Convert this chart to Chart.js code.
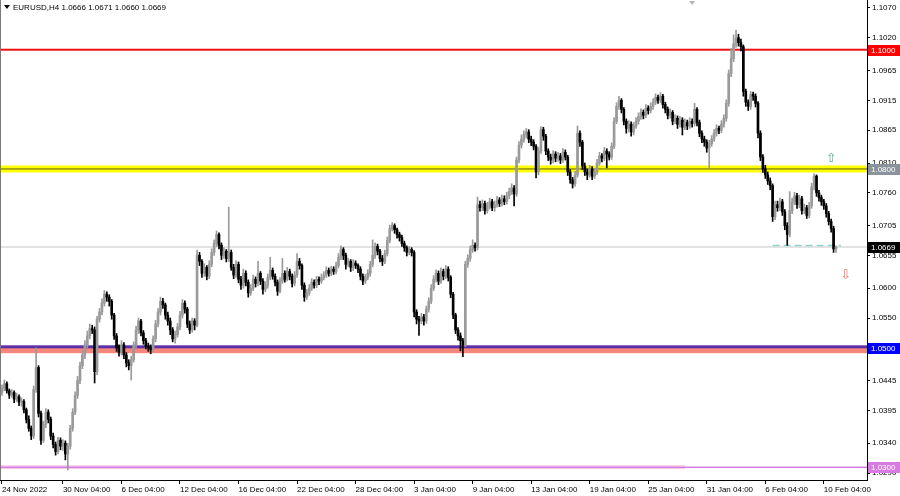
<!DOCTYPE html>
<html>
<head>
<meta charset="utf-8">
<script src="https://cdn.jsdelivr.net/npm/chart.js@4.4.1/dist/chart.umd.min.js"></script>
<style>
html, body { margin: 0; padding: 0; background: #fff; }
#wrap { width: 900px; height: 496px; }
</style>
</head>
<body>
<div id="wrap"><canvas id="chart" width="900" height="496"></canvas></div>
<script>
// EURUSD H4, 24 Nov 2022 - 10 Feb 2023. Prices are pips above 1.0000
const symbol = 'EURUSD,H4';

const opens = [
    425,432,440,428,421,425,414,418,409,410, 396,380,365,352,430,467,390,345,372,392,
    380,352,338,326,345,335,340,322,335,365, 392,420,445,470,488,505,520,532,530,460,
    548,560,575,590,585,578,555,520,500,492, 505,488,475,470,480,505,530,545,525,512,
    503,500,497,515,540,560,578,572,555,545, 530,515,522,535,555,575,565,540,530,545,
    538,655,645,625,635,620,640,660,675,690, 672,655,662,650,660,635,622,640,615,605,
    625,610,592,600,615,608,625,612,598,605, 618,630,620,610,595,612,625,615,628,620,
    608,622,645,638,605,585,592,600,610,605, 615,612,618,622,630,625,632,628,638,652,
    665,655,640,645,635,642,638,632,620,612, 618,625,640,655,670,662,650,645,658,680,
    700,705,698,690,685,675,668,660,665,660, 560,548,545,552,545,565,578,600,615,625,
    612,628,620,632,618,590,555,530,520,512, 505,640,650,665,672,668,740,735,742,730,
    738,745,735,740,748,742,750,745,755,762, 768,758,815,840,850,858,862,850,845,838,
    795,830,866,855,830,820,815,825,818,822, 815,828,820,795,782,775,790,860,845,805,
    795,790,800,788,795,810,822,818,830,825, 820,838,880,905,915,900,880,868,875,862,
    872,880,888,895,890,902,898,905,912,920, 915,922,908,900,890,895,880,885,875,882,
    870,878,872,880,876,900,878,860,850,845, 835,842,850,860,868,865,875,885,910,960,
    985,1010,1020,1012,1005,930,912,905,925,922, 910,860,820,800,790,780,772,720,740,735,
    745,728,705,690,730,745,755,740,750,730, 735,722,738,770,788,760,752,745,738,725,
    712,700,666
];
const highs = [
    438,446,443,431,430,428,424,421,416,413, 399,386,369,436,500,470,394,377,398,396,
    384,357,342,350,349,346,344,340,370,398, 426,452,476,495,512,528,540,538,535,553,
    566,582,596,594,589,581,558,524,505,512, 509,492,480,486,510,536,550,548,529,516,
    508,505,520,546,566,585,583,575,560,550, 534,528,541,561,581,579,568,545,550,549,
    664,660,648,641,638,646,666,681,696,693, 676,668,665,736,664,640,646,644,620,632,
    629,614,606,622,619,645,628,616,611,624, 652,634,624,614,618,650,629,635,632,624,
    628,658,650,641,609,598,606,616,614,620, 619,624,628,636,634,637,636,644,658,671,
    668,659,650,648,648,646,641,636,624,623, 631,645,681,676,674,665,655,664,686,706,
    710,708,701,694,689,679,671,670,668,663, 564,553,558,556,570,584,606,621,631,629,
    634,632,638,636,621,593,558,534,525,516, 645,656,671,681,676,753,746,748,746,744,
    751,749,746,754,752,756,755,761,768,775, 772,820,846,857,864,868,866,855,849,841,
    836,871,870,858,834,825,831,829,828,826, 834,832,823,799,786,796,872,864,848,810,
    800,806,804,801,816,828,826,836,834,829, 844,886,911,922,918,903,884,881,879,878,
    886,894,901,899,908,906,911,918,926,924, 928,925,912,904,901,898,891,889,888,886,
    884,882,886,884,910,903,882,864,855,849, 848,856,866,874,872,881,891,916,966,1002,
    1025,1033,1026,1018,1008,934,916,930,929,926, 913,864,824,806,795,785,775,746,746,751,
    749,732,710,762,751,761,759,756,754,741, 739,744,776,792,790,764,756,749,742,729,
    716,704,671
];
const lows = [
    420,428,424,415,417,408,410,403,402,391, 374,360,346,348,425,384,338,341,366,374,
    346,332,320,322,329,328,312,295,330,360, 388,415,440,465,482,500,515,524,441,455,
    543,555,570,578,570,548,514,494,486,488, 482,468,463,446,476,500,524,520,506,498,
    494,490,493,510,535,555,566,548,538,522, 510,508,518,530,550,558,534,524,526,530,
    535,638,618,620,614,616,636,655,670,666, 648,650,644,645,630,616,618,609,598,600,
    604,585,588,596,602,604,606,590,594,600, 614,615,604,588,592,608,610,612,614,602,
    604,618,632,598,578,581,588,596,600,601, 606,608,614,618,620,621,623,624,634,648,
    648,632,636,628,630,633,626,614,606,608, 614,620,636,650,656,644,638,641,654,676,
    696,692,684,679,670,662,654,656,654,552, 540,521,540,538,541,560,574,596,610,606,
    608,614,616,612,584,549,524,513,495,485, 502,635,645,660,662,664,729,730,724,726,
    733,730,729,736,737,738,740,741,750,757, 738,754,810,835,845,852,844,839,832,785,
    790,826,848,824,814,808,810,812,813,809, 811,815,789,776,768,771,786,838,799,789,
    782,786,782,784,791,806,812,814,802,815, 816,834,876,900,894,874,860,862,855,857,
    868,875,883,884,886,892,894,900,908,910, 911,902,894,884,885,874,876,868,870,857,
    866,866,868,870,872,872,854,844,838,828, 802,838,846,855,859,861,870,880,905,955,
    980,1004,1006,998,922,905,898,900,915,904, 852,814,794,784,774,765,712,715,729,730,
    722,698,672,686,725,740,734,735,724,725, 717,718,734,765,754,746,739,732,719,706,
    694,660,660
];
const closes = [
    432,440,428,421,425,414,418,409,410,396, 380,365,352,430,467,390,345,372,392,380,
    352,338,326,345,335,340,322,335,365,392, 420,445,470,488,505,520,532,530,460,548,
    560,575,590,585,578,555,520,500,492,505, 488,475,470,480,505,530,545,525,512,503,
    500,497,515,540,560,578,572,555,545,530, 515,522,535,555,575,565,540,530,545,538,
    655,645,625,635,620,640,660,675,690,672, 655,662,650,660,635,622,640,615,605,625,
    610,592,600,615,608,625,612,598,605,618, 630,620,610,595,612,625,615,628,620,608,
    622,645,638,605,585,592,600,610,605,615, 612,618,622,630,625,632,628,638,652,665,
    655,640,645,635,642,638,632,620,612,618, 625,640,655,670,662,650,645,658,680,700,
    705,698,690,685,675,668,660,665,660,560, 548,545,552,545,565,578,600,615,625,612,
    628,620,632,618,590,555,530,520,512,505, 640,650,665,672,668,740,735,742,730,738,
    745,735,740,748,742,750,745,755,762,768, 758,815,840,850,858,862,850,845,838,795,
    830,866,855,830,820,815,825,818,822,815, 828,820,795,782,775,790,860,845,805,795,
    790,800,788,795,810,822,818,830,825,820, 838,880,905,915,900,880,868,875,862,872,
    880,888,895,890,902,898,905,912,920,915, 922,908,900,890,895,880,885,875,882,870,
    878,872,880,876,900,878,860,850,845,835, 842,850,860,868,865,875,885,910,960,985,
    1010,1020,1012,1005,930,912,905,925,922,910, 860,820,800,790,780,772,720,740,735,745,
    728,705,690,730,745,755,740,750,730,735, 722,738,770,788,760,752,745,738,725,712,
    700,666,669
];

// time axis: one label every 24 bars
const xTickIdx = [0, 25, 49, 73, 97, 121, 145, 169, 193, 217, 241, 265, 289, 313, 337];
const xTickLabels = ['24 Nov 2022', '30 Nov 04:00', '6 Dec 04:00', '12 Dec 04:00', '16 Dec 04:00',
    '22 Dec 04:00', '28 Dec 04:00', '3 Jan 04:00', '9 Jan 04:00', '13 Jan 04:00', '19 Jan 04:00',
    '25 Jan 04:00', '31 Jan 04:00', '6 Feb 04:00', '10 Feb 04:00'];
const yTickValues = [1.1070, 1.1020, 1.0965, 1.0915, 1.0865, 1.0810, 1.0760, 1.0705,
    1.0655, 1.0600, 1.0550, 1.0495, 1.0445, 1.0395, 1.0340, 1.0290];

// horizontal levels drawn on the chart
const resistanceLevel = 1.1000;
const pivotLevel = 1.0800;
const supportLevel = 1.0500;
const lowerLevel = 1.0300;
const recentLow = 1.0672;
const lastPrice = 1.0669;
// signal arrows: [bar index, price]
const arrowUp = [340, 1.0818];
const arrowDown = [346, 1.0621];

const FONT = 'Liberation Sans, Arial, sans-serif';
const BULL = '#9a9a9a';
const BEAR = '#000000';

const px = v => 1 + v / 10000;
const isBull = opens.map((o, i) => closes[i] >= o);

const bodies = opens.map((o, i) => ({ x: i, y: [px(o), px(closes[i])] }));
const wicks = opens.map((o, i) => ({ x: i, y: [px(lows[i]), px(highs[i])] }));
const colors = isBull.map(b => b ? BULL : BEAR);

// ------------------------------------------------------------------
// levels, right-hand price labels, header and arrows
// ------------------------------------------------------------------

function priceTag(ctx, y, price, bg, fg) {
    const yy = Math.round(y);
    ctx.fillStyle = bg;
    ctx.fillRect(868, yy - 5, 32, 11);
    ctx.fillStyle = fg;
    ctx.font = '8px ' + FONT;
    ctx.textAlign = 'left';
    ctx.textBaseline = 'middle';
    ctx.fillText(price.toFixed(4), 871, yy + 0.5);
}

const overlay = {
    id: 'overlay',
    beforeDatasetsDraw(chart) {
        const { ctx, chartArea: a, scales: { x, y } } = chart;
        const w = a.right - a.left;
        ctx.save();

        // 1.0300 zone (pale band on older part) and line
        const yl = y.getPixelForValue(lowerLevel);
        ctx.fillStyle = '#f6d3ea';
        ctx.fillRect(a.left, yl - 2, x.getPixelForValue(280) - a.left, 4);
        ctx.fillStyle = '#d77be3';
        ctx.fillRect(a.left, yl - 0.5, w, 1.5);

        // 1.0500 support
        const ys = y.getPixelForValue(supportLevel);
        const ys2 = y.getPixelForValue(supportLevel - 0.0009);
        ctx.fillStyle = '#f7877a';
        ctx.fillRect(a.left, ys, w, ys2 - ys);
        ctx.fillStyle = '#5a2fa8';
        ctx.fillRect(a.left, ys - 2.5, w, 3);

        // 1.0800 pivot
        const yp = y.getPixelForValue(pivotLevel);
        ctx.fillStyle = '#ffff00';
        ctx.fillRect(a.left, yp - 3.5, w, 7);
        ctx.fillStyle = '#5c5c1a';
        ctx.fillRect(a.left, yp - 0.5, w, 1);

        // 1.1000 resistance
        const yr = y.getPixelForValue(resistanceLevel);
        ctx.fillStyle = '#ee1111';
        ctx.fillRect(a.left, yr - 1, w, 2);

        // last price line
        const yc = y.getPixelForValue(lastPrice);
        ctx.fillStyle = '#c8c8c8';
        ctx.fillRect(a.left, Math.round(yc) - 0.5, w, 1);

        // recent low (dashed)
        const yd = Math.round(y.getPixelForValue(recentLow)) + 0.5;
        ctx.strokeStyle = '#8fd3cf';
        ctx.lineWidth = 1.5;
        ctx.setLineDash([7, 4]);
        ctx.beginPath();
        ctx.moveTo(x.getPixelForValue(316), yd);
        ctx.lineTo(x.getPixelForValue(344), yd);
        ctx.stroke();
        ctx.restore();
    },
    afterDraw(chart) {
        const { ctx, chartArea: a, scales: { x, y } } = chart;
        ctx.save();

        // left frame
        ctx.fillStyle = '#7a7a7a';
        ctx.fillRect(0, 0, 1, a.bottom);

        priceTag(ctx, y.getPixelForValue(resistanceLevel), resistanceLevel, '#ff0000', '#ffffff');
        priceTag(ctx, y.getPixelForValue(pivotLevel), pivotLevel, '#8a939c', '#ffffff');
        priceTag(ctx, y.getPixelForValue(lastPrice), lastPrice, '#000000', '#ffffff');
        priceTag(ctx, y.getPixelForValue(supportLevel), supportLevel, '#0000ff', '#ffffff');
        priceTag(ctx, y.getPixelForValue(lowerLevel), lowerLevel, '#d77be3', '#ffffff');

        // arrows
        ctx.font = '13px DejaVu Sans';
        ctx.textAlign = 'center';
        ctx.textBaseline = 'middle';
        ctx.fillStyle = '#4fb79a';
        ctx.fillText('\u21E7', x.getPixelForValue(arrowUp[0]), y.getPixelForValue(arrowUp[1]));
        ctx.fillStyle = '#f0735f';
        ctx.fillText('\u21E9', x.getPixelForValue(arrowDown[0]), y.getPixelForValue(arrowDown[1]));

        // chart shift marker
        const sx = x.getPixelForValue(283);
        ctx.fillStyle = '#b4b4b4';
        ctx.beginPath();
        ctx.moveTo(sx - 3, 1);
        ctx.lineTo(sx + 3, 1);
        ctx.lineTo(sx, 5);
        ctx.closePath();
        ctx.fill();

        // header
        const n = opens.length - 1;
        ctx.fillStyle = '#000';
        ctx.beginPath();
        ctx.moveTo(4, 5);
        ctx.lineTo(10, 5);
        ctx.lineTo(7, 9);
        ctx.closePath();
        ctx.fill();
        ctx.font = '8px ' + FONT;
        ctx.textAlign = 'left';
        ctx.textBaseline = 'middle';
        const ohlc = [opens[n], highs[n], lows[n], closes[n]].map(v => px(v).toFixed(4)).join(' ');
        ctx.fillText(symbol + ' ' + ohlc, 13, 7.5);
        ctx.restore();
    },
};

new Chart(document.getElementById('chart'), {
    type: 'bar',
    data: {
        datasets: [
            {
                label: 'body',
                data: bodies,
                backgroundColor: colors,
                borderWidth: 0,
                barThickness: 2,
                minBarLength: 1,
                grouped: false,
                order: 0,
            },
            {
                label: 'wick',
                data: wicks,
                backgroundColor: colors,
                borderWidth: 0,
                barThickness: 1,
                grouped: false,
                order: 1,
            },
        ],
    },
    options: {
        responsive: false,
        animation: false,
        devicePixelRatio: 1,
        layout: { padding: 0 },
        scales: {
            x: {
                type: 'linear',
                min: -0.8,
                max: 354.7,
                offset: false,
                grid: { display: true, offset: false, drawOnChartArea: false, drawTicks: true, tickLength: 4, color: '#000' },
                border: { display: true, color: '#000' },
                ticks: {
                    autoSkip: false,
                    maxRotation: 0,
                    align: 'start',
                    padding: 1,
                    color: '#000',
                    font: { size: 8, family: FONT },
                    callback: (v, i) => xTickLabels[i],
                },
                afterBuildTicks: s => { s.ticks = xTickIdx.map(v => ({ value: v })); },
                afterFit: s => { s.height = 16; s.paddingLeft = 0; s.paddingRight = 0; },
            },
            y: {
                type: 'linear',
                position: 'right',
                min: 1.02783,
                max: 1.10834,
                grid: { display: true, drawOnChartArea: false, drawTicks: true, tickLength: 3, color: '#000' },
                border: { display: true, color: '#000' },
                ticks: {
                    padding: 2,
                    color: '#000',
                    font: { size: 8, family: FONT },
                    callback: v => v.toFixed(4),
                },
                afterBuildTicks: s => { s.ticks = yTickValues.map(v => ({ value: v })); },
                afterFit: s => { s.width = 33; s.paddingTop = 0; s.paddingBottom = 0; },
            },
        },
        plugins: {
            legend: { display: false },
            tooltip: { enabled: false },
        },
    },
    plugins: [overlay],
});
</script>
</body>
</html>
